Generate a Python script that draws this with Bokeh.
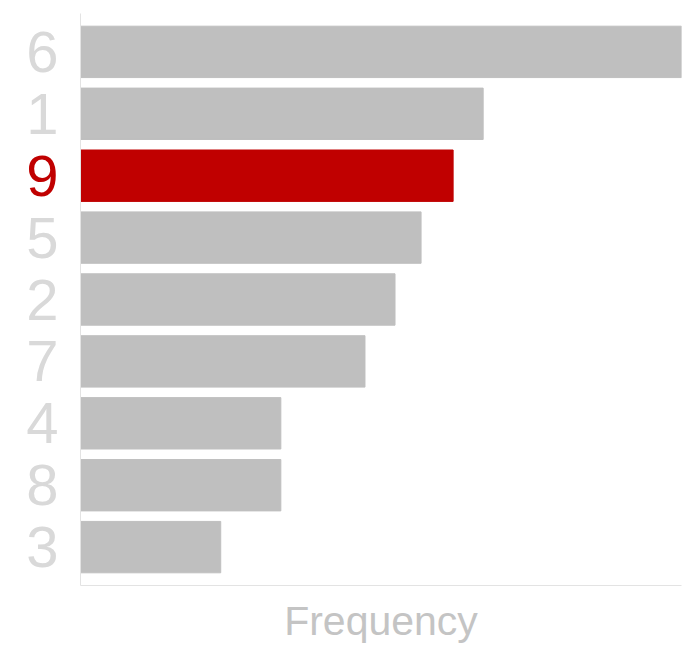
from bokeh.plotting import figure
from bokeh.models import ColumnDataSource, Range1d, FactorRange, CategoricalAxis, CustomJSTickFormatter, FixedTicker
from bokeh.embed import file_html
from bokeh.resources import INLINE

categories = ["6", "1", "9", "5", "2", "7", "4", "8", "3"]
frequency = [30, 20.1, 18.6, 17, 15.7, 14.2, 10, 10, 7]
highlight = "9"

bar_colors = ["#c00000" if c == highlight else "#bfbfbf" for c in categories]

src = ColumnDataSource(dict(cat=categories, val=frequency, bc=bar_colors))

yr = FactorRange(factors=list(reversed(categories)), range_padding=0.12, range_padding_units="absolute")
p = figure(width=697, height=646, y_range=yr, x_range=Range1d(0, max(frequency)),
           output_backend="svg", toolbar_location=None,
           min_border_left=80, min_border_right=16, min_border_top=13, min_border_bottom=0)

p.hbar(y="cat", right="val", left=0, height=0.83, color="bc", source=src)

p.grid.visible = False
p.outline_line_color = None
p.background_fill_color = "white"

LABEL_FONT = "Liberation Sans"
LABEL_SIZE = "58px"

# inner axis: grey labels (highlighted one blanked)
ya = p.yaxis[0]
ya.formatter = CustomJSTickFormatter(args=dict(h=highlight), code="return tick == h ? '' : tick;")
ya.major_label_text_font = LABEL_FONT
ya.major_label_text_font_size = LABEL_SIZE
ya.major_label_text_color = "#d9d9d9"
ya.major_tick_line_color = None
ya.major_tick_out = 0
ya.major_tick_in = 0
ya.minor_tick_line_color = None
ya.axis_line_color = "#e3e3e3"
ya.major_label_standoff = 22

# outer axis: only the highlighted label, in red, shifted onto the same column
ya2 = CategoricalAxis(formatter=CustomJSTickFormatter(args=dict(h=highlight), code="return tick == h ? tick : '';"),
                      major_label_text_font=LABEL_FONT, major_label_text_font_size=LABEL_SIZE,
                      major_label_text_color="#c00000", major_tick_line_color=None,
                      major_tick_out=0, major_tick_in=0, minor_tick_line_color=None,
                      axis_line_color=None, major_label_standoff=-35)
p.add_layout(ya2, "left")

p.xaxis.ticker = FixedTicker(ticks=[])
p.xaxis.axis_label = "Frequency"
p.xaxis.axis_label_text_font = "Liberation Sans"
p.xaxis.axis_label_text_font_style = "normal"
p.xaxis.axis_label_text_font_size = "41px"
p.xaxis.axis_label_text_color = "#c4c4c4"
p.xaxis.major_tick_line_color = None
p.xaxis.minor_tick_line_color = None
p.xaxis.axis_line_color = "#e3e3e3"
p.xaxis.axis_label_standoff = 12
p.xaxis.major_label_standoff = 0

open("out.html", "w").write(file_html(p, INLINE))
